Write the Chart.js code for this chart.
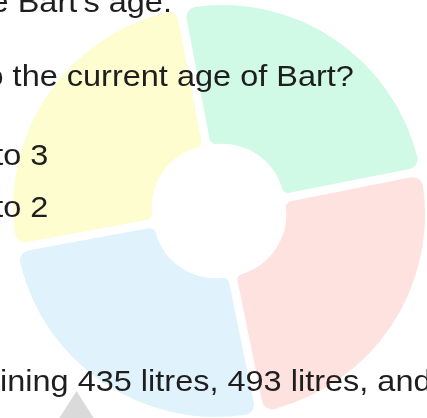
<!DOCTYPE html>
<html>
<head>
<meta charset="utf-8">
<script src="https://cdn.jsdelivr.net/npm/chart.js"></script>
<style>
    html, body { margin: 0; padding: 0; background: #fff; }
    body { width: 427px; height: 418px; overflow: hidden; position: relative; }
    #pieChart { position: absolute; left: 0; top: 0; z-index: 0; }
    .line {
        position: absolute;
        z-index: 2;
        white-space: nowrap;
        font-family: "Liberation Sans", Arial, sans-serif;
        font-size: 29px;
        line-height: 29px;
        color: #1e1e1e;
        transform: scaleX(1.12);
        transform-origin: right top;
    }
    .tri {
        position: absolute;
        left: 48px; top: 391px; width: 57px; height: 45px;
        background: #dadada;
        clip-path: polygon(50% 0, 100% 100%, 0 100%);
        z-index: 1;
    }
</style>
</head>
<body>
<canvas id="pieChart" width="427" height="418"></canvas>
<div class="line" style="right:255px; top:-12px;">e Bart's age.</div>
<div class="line" style="right:73px; top:62px;">o the current age of Bart?</div>
<div class="line" style="right:379px; top:141px;">to 3</div>
<div class="line" style="right:379px; top:193px;">to 2</div>
<div class="line" style="left:0; top:367px; transform-origin: left top;">ining 435 litres, 493 litres, and</div>
<div class="tri"></div>
<script>
// slice values (share of the circle)
var categories = ['A', 'B', 'C', 'D'];
var values = [24.9, 24.9, 25.3, 24.9];
var sliceColors = ['#d1fae6', '#fee2df', '#e0f3fd', '#fefdcf'];

var pieChartCanvas = document.getElementById('pieChart').getContext('2d');
var pieData = {
    labels: categories,
    datasets: [
        {
            data: values,
            backgroundColor: sliceColors,
            borderWidth: 0,
            offset: 24,
            borderRadius: { outerStart: 10, outerEnd: 10, innerStart: 6, innerEnd: 6 }
        }
    ]
};
var pieOptions = {
    responsive: false,
    animation: false,
    rotation: -10.8,
    radius: 201,
    cutout: '31%',
    layout: { padding: { left: 11, top: 4, right: 0, bottom: 0 } },
    plugins: {
        legend: { display: false },
        tooltip: { enabled: false }
    },
    events: []
};
var pieChart = new Chart(pieChartCanvas, {
    type: 'doughnut',
    data: pieData,
    options: pieOptions
});
</script>
</body>
</html>
